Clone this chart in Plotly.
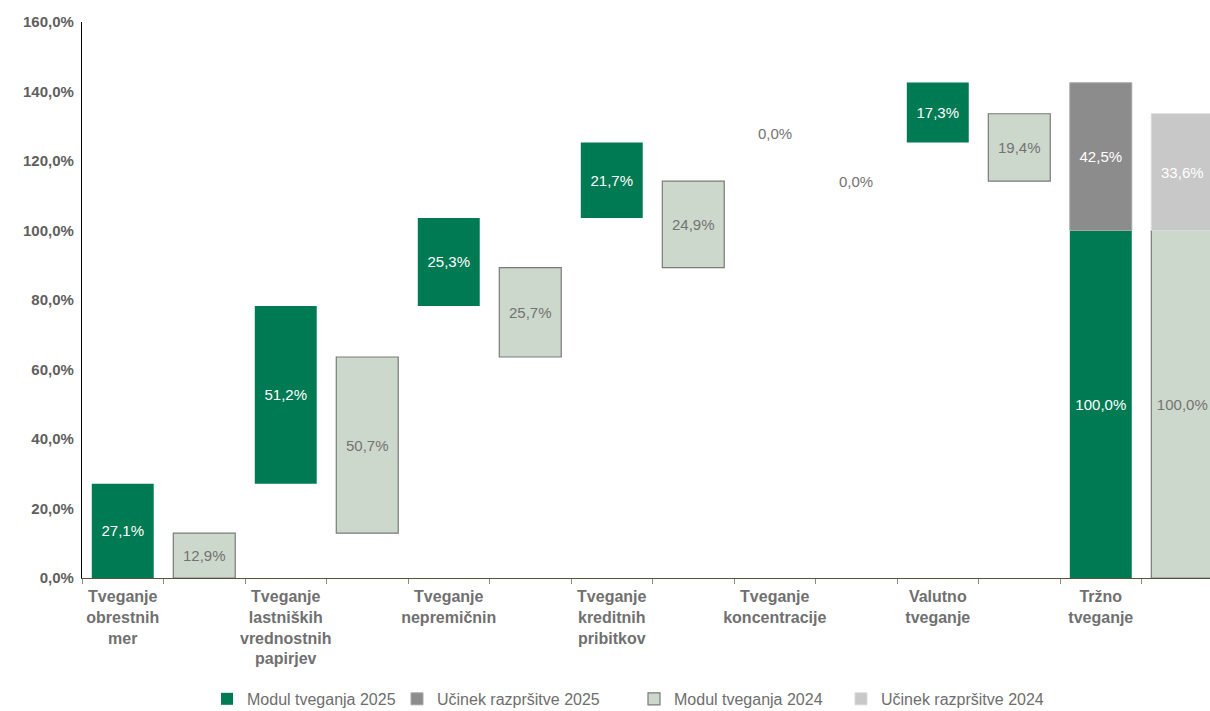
import plotly.graph_objects as go

# ---- data ----
categories = ["Tveganje<br>obrestnih<br>mer", "Tveganje<br>lastniških<br>vrednostnih<br>papirjev",
              "Tveganje<br>nepremičnin", "Tveganje<br>kreditnih<br>pribitkov",
              "Tveganje<br>koncentracije", "Valutno<br>tveganje", "Tržno<br>tveganje"]
modul_2025 = [27.1, 51.2, 25.3, 21.7, 0.0, 17.3]
modul_2024 = [12.9, 50.7, 25.7, 24.9, 0.0, 19.4]
total_2025 = 100.0
total_2024 = 100.0
razprsitev_2025 = 42.5
razprsitev_2024 = 33.6
y_ticks = [0, 20, 40, 60, 80, 100, 120, 140, 160]

GREEN = "#007A53"
LIGHT = "#CDD8CC"
DGRAY = "#8C8C8C"
LGRAY = "#C8C8C8"
FONT = "Liberation Sans, Arial, sans-serif"
LBL = "#737373"


def fmt(v):
    return f"{v:.1f}".replace(".", ",") + "%"


def waterfall(values):
    bases, acc = [], 0.0
    for v in values:
        bases.append(acc)
        acc += v
    return bases


b25 = waterfall(modul_2025)
b24 = waterfall(modul_2024)
n = len(modul_2025)
x25 = [2 * i for i in range(n)] + [2 * n]
x24 = [2 * i + 1 for i in range(n)] + [2 * n + 1]
W = 0.76

fig = go.Figure()
fig.add_trace(go.Bar(
    x=x25, y=modul_2025 + [total_2025], base=b25 + [0],
    width=W, marker=dict(color=GREEN, line=dict(width=0)),
    text=[fmt(v) if v else "" for v in modul_2025] + [fmt(total_2025)],
    textposition="inside", insidetextanchor="middle",
    textfont=dict(color="white", size=15, family=FONT),
    name="Modul tveganja 2025", legend="legend", hoverinfo="skip"))
fig.add_trace(go.Bar(
    x=[2 * n], y=[razprsitev_2025], base=[total_2025],
    width=W, marker=dict(color=DGRAY, line=dict(width=1, color="#a6a6a6")),
    text=[fmt(razprsitev_2025)], textposition="inside", insidetextanchor="middle",
    textfont=dict(color="white", size=15, family=FONT),
    name="Učinek razpršitve 2025", legend="legend2", hoverinfo="skip"))
fig.add_trace(go.Bar(
    x=x24, y=modul_2024 + [total_2024], base=b24 + [0],
    width=W, marker=dict(color=LIGHT,
                         line=dict(width=[1.2 if v else 0 for v in modul_2024] + [1.2],
                                   color="#7a7a7a")),
    text=[fmt(v) if v else "" for v in modul_2024] + [fmt(total_2024)],
    textposition="inside", insidetextanchor="middle",
    textfont=dict(color=LBL, size=15, family=FONT),
    name="Modul tveganja 2024", legend="legend3", hoverinfo="skip"))
fig.add_trace(go.Bar(
    x=[2 * n + 1], y=[razprsitev_2024], base=[total_2024],
    width=W, marker=dict(color=LGRAY, line=dict(width=1, color="#d9d9d9")),
    text=[fmt(razprsitev_2024)], textposition="inside", insidetextanchor="middle",
    textfont=dict(color="white", size=15, family=FONT),
    name="Učinek razpršitve 2024", legend="legend4", hoverinfo="skip"))

# invisible trace for label axis
fig.add_trace(go.Scatter(x=[0], y=[0], xaxis="x2", mode="markers",
                         marker=dict(opacity=0), showlegend=False, hoverinfo="skip"))

# zero-value labels
for i, v in enumerate(modul_2025):
    if v == 0:
        fig.add_annotation(x=x25[i], y=b25[i] + v, text=fmt(v), showarrow=False,
                           yshift=9, font=dict(color=LBL, size=15, family=FONT))
for i, v in enumerate(modul_2024):
    if v == 0:
        fig.add_annotation(x=x24[i], y=b24[i] + v, text=fmt(v), showarrow=False,
                           yshift=0, font=dict(color=LBL, size=15, family=FONT))

XR = [-0.5, 13.34]
boundaries = [i - 0.5 for i in range(2 * len(categories) + 1)]

legend_common = dict(orientation="h", xref="container", yref="container",
                     yanchor="middle", y=0.017, bgcolor="rgba(0,0,0,0)",
                     font=dict(size=16, color="#6e6e6e", family=FONT),
                     itemwidth=30, tracegroupgap=0)

fig.update_layout(
    width=1210, height=711,
    margin=dict(l=82, r=0, t=22, b=133),
    paper_bgcolor="white", plot_bgcolor="white",
    separators=", ",
    barmode="overlay",
    font=dict(family=FONT),
    xaxis=dict(range=XR, tickvals=boundaries, showticklabels=False,
               ticks="outside", ticklen=5, tickcolor="#8a8a8a", tickwidth=1,
               showline=True, linecolor="#55553a", linewidth=1.3,
               showgrid=False, zeroline=False, fixedrange=True),
    xaxis2=dict(range=XR, overlaying="x", side="bottom", matches="x",
                tickvals=[2 * i for i in range(len(categories))], ticktext=categories,
                ticks="", showline=False, showgrid=False, zeroline=False,
                ticklabelstandoff=7,
                tickfont=dict(size=16, color="#707070", family=FONT, weight="bold")),
    yaxis=dict(range=[0, 160], tickvals=y_ticks, ticktext=[fmt(t) for t in y_ticks],
               showline=True, linecolor="black", linewidth=1.3, ticks="",
               showgrid=False, zeroline=False, ticklabelstandoff=4,
               tickfont=dict(size=15, color="#606060", family=FONT, weight="bold")),
    legend=dict(x=207 / 1210, **legend_common),
    legend2=dict(x=397 / 1210, **legend_common),
    legend3=dict(x=634 / 1210, **legend_common),
    legend4=dict(x=841 / 1210, **legend_common),
)

fig.write_html("out.html")
